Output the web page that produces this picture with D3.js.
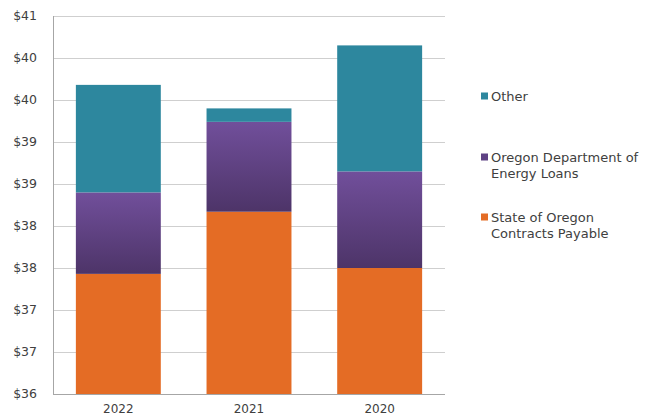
<!DOCTYPE html>
<html>
<head>
<meta charset="utf-8">
<script src="https://cdn.jsdelivr.net/npm/d3@7"></script>
<style>
  body { margin: 0; background: #fff; }
  text { font-family: "DejaVu Sans", sans-serif; fill: #404040; }
</style>
</head>
<body>
<svg id="chart" width="648" height="417"></svg>
<script>
// chart data
const years = ["2022", "2021", "2020"];
const stateContracts = [37.43, 38.17, 37.50];
const energyLoans = [0.97, 1.07, 1.15];
const other = [1.28, 0.16, 1.50];
const seriesNames = ["State of Oregon Contracts Payable", "Oregon Department of Energy Loans", "Other"];
const yTicks = [36, 36.5, 37, 37.5, 38, 38.5, 39, 39.5, 40, 40.5];

const svg = d3.select("svg#chart");
const plotLeft = 53, plotRight = 445, plotTop = 16, plotBottom = 394;
const colors = ["#e46c25", "url(#purpleGrad)", "#2d879e"];
const legendColors = ["#e46c25", "#5e4284", "#2d879e"];

// purple fill fades darker toward the bottom
const grad = svg.append("defs").append("linearGradient")
    .attr("id", "purpleGrad")
    .attr("x1", 0).attr("y1", 0).attr("x2", 0).attr("y2", 1);
grad.append("stop").attr("offset", "0%").attr("stop-color", "#714f9b");
grad.append("stop").attr("offset", "100%").attr("stop-color", "#4d3468");

const x = d3.scaleBand().domain(years).range([plotLeft, plotRight])
    .paddingInner(0.35).paddingOuter(0.175);
const y = d3.scaleLinear().domain([36, 40.5]).range([plotBottom, plotTop]);

// gridlines
svg.append("g")
    .selectAll("line")
    .data(yTicks.slice(1))
    .join("line")
    .attr("x1", plotLeft).attr("x2", plotRight)
    .attr("y1", d => Math.round(y(d)) + 0.5)
    .attr("y2", d => Math.round(y(d)) + 0.5)
    .attr("stroke", "#cfcfcf");

// stacked bars
const rows = years.map((yr, i) => ({ year: yr, a: stateContracts[i], b: energyLoans[i], c: other[i] }));
const stack = d3.stack().keys(["a", "b", "c"])(rows);
svg.append("g")
    .selectAll("g")
    .data(stack)
    .join("g")
    .attr("fill", (d, i) => colors[i])
    .selectAll("rect")
    .data(d => d)
    .join("rect")
    .attr("x", d => x(d.data.year))
    .attr("width", x.bandwidth())
    .attr("y", d => y(d[1]))
    .attr("height", d => y(Math.max(d[0], 36)) - y(d[1]));

// axes lines
svg.append("line")
    .attr("x1", plotLeft + 0.5).attr("x2", plotLeft + 0.5)
    .attr("y1", plotTop).attr("y2", plotBottom)
    .attr("stroke", "#a6a6a6");
svg.append("line")
    .attr("x1", plotLeft).attr("x2", plotRight)
    .attr("y1", plotBottom + 0.5).attr("y2", plotBottom + 0.5)
    .attr("stroke", "#a6a6a6");

// y tick labels (rounded to whole dollars)
svg.append("g")
    .selectAll("text")
    .data(yTicks)
    .join("text")
    .attr("x", 37)
    .attr("y", d => y(d))
    .attr("dy", "0.35em")
    .attr("text-anchor", "end")
    .style("font-size", "12.5px")
    .text(d => "$" + Math.round(d));

// x labels
svg.append("g")
    .selectAll("text")
    .data(years)
    .join("text")
    .attr("x", d => x(d) + x.bandwidth() / 2)
    .attr("y", 409)
    .attr("dy", "0.35em")
    .attr("text-anchor", "middle")
    .style("font-size", "12px")
    .text(d => d);

// legend
const legendItems = [
    { color: legendColors[2], lines: ["Other"], y: 96 },
    { color: legendColors[1], lines: ["Oregon Department of", "Energy Loans"], y: 157 },
    { color: legendColors[0], lines: ["State of Oregon", "Contracts Payable"], y: 217 }
];
const legend = svg.append("g");
legendItems.forEach(item => {
    legend.append("rect")
        .attr("x", 481).attr("y", item.y - 3.5)
        .attr("width", 7).attr("height", 7)
        .attr("fill", item.color);
    item.lines.forEach((line, j) => {
        legend.append("text")
            .attr("x", 491)
            .attr("y", item.y + j * 16)
            .attr("dy", "0.35em")
            .style("font-size", "13px")
            .text(line);
    });
});
</script>
</body>
</html>
